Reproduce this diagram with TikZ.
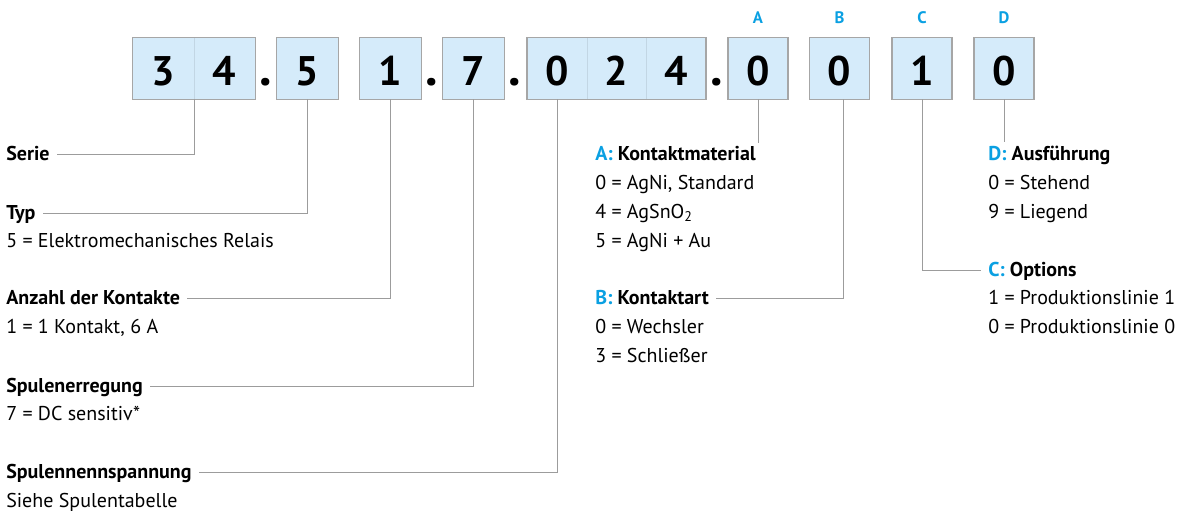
\documentclass[tikz,border=0pt]{standalone}
\usepackage{fontspec}
\setmainfont{PT Sans}
\usetikzlibrary{calc}
\definecolor{boxfill}{HTML}{D5EBFA}
\definecolor{boxline}{HTML}{A6A6A6}
\definecolor{divline}{HTML}{C2D6E4}
\definecolor{connline}{HTML}{9C9C9C}
\definecolor{blu}{HTML}{0AA0E2}
\begin{document}
\begin{tikzpicture}[x=0.75pt,y=-0.75pt,
  cell/.style={fill=boxfill, minimum width=45.75pt, minimum height=45.75pt, inner sep=0pt,
    text height=24.75pt, text depth=0pt, font=\bfseries\fontsize{31}{33}\selectfont},
  cellw/.style={cell, minimum width=44.8pt},
  border/.style={draw=boxline, line width=1.1pt},
  divider/.style={draw=divline, line width=0.6pt},
  dotsym/.style={anchor=base, inner sep=0pt, font=\bfseries\fontsize{38}{40}\selectfont},
  letter/.style={inner sep=0pt, text=blu, font=\bfseries\fontsize{12.5}{14}\selectfont},
  head/.style={anchor=base west, inner sep=0pt, font=\bfseries\fontsize{15}{17}\selectfont},
  sub/.style={anchor=base west, inner sep=0pt, font=\fontsize{15}{17}\selectfont},
  conn/.style={draw=connline, line width=0.7pt}]
\useasboundingbox (0,0) rectangle (1186,514);
% cells
\node[cell] (s1) at (163.5,68.5) {3};
\node[cell] (s2) at (224.5,68.5) {4};
\node[cell] (t) at (307.5,68.5) {5};
\node[cell] (k) at (390.5,68.5) {1};
\node[cell] (e) at (473.5,68.5) {7};
\node[cellw] (v1) at (557,68.5) {0};
\node[cellw] (v2) at (616.5,68.5) {2};
\node[cellw] (v3) at (676,68.5) {4};
\node[cellw] (a) at (758,68.5) {0};
\node[cellw] (b) at (839.5,68.5) {0};
\node[cellw] (c) at (922,68.5) {1};
\node[cellw] (d) at (1004,68.5) {0};
% dividers and borders
\draw[divider] (s1.north east) -- (s1.south east);
\draw[divider] (v1.north east) -- (v1.south east);
\draw[divider] (v2.north east) -- (v2.south east);
\draw[border] (s1.north west) rectangle (s2.south east);
\draw[border] (t.north west) rectangle (t.south east);
\draw[border] (k.north west) rectangle (k.south east);
\draw[border] (e.north west) rectangle (e.south east);
\draw[border] (v1.north west) rectangle (v3.south east);
\draw[border] (a.north west) rectangle (a.south east);
\draw[border] (b.north west) rectangle (b.south east);
\draw[border] (c.north west) rectangle (c.south east);
\draw[border] (d.north west) rectangle (d.south east);
% dots
\node[dotsym] (p1) at (266,85) {.};
\node[dotsym] (p2) at (432,85) {.};
\node[dotsym] (p3) at (515,85) {.};
\node[dotsym] (p4) at (717,85) {.};
% letters
\node[letter] (la) at (758,18) {A};
\node[letter] (lb) at (839.5,18) {B};
\node[letter] (lc) at (922,18) {C};
\node[letter] (ld) at (1004,18) {D};
% left labels
\node[head] (serie) at (6,160) {Serie};
\node[head] (typ) at (6,219) {Typ};
\node[sub] (typ1) at (6,247) {5 = Elektromechanisches Relais};
\node[head] (anz) at (6,304) {Anzahl der Kontakte};
\node[sub] (anz1) at (6,333) {1 = 1 Kontakt, 6 A};
\node[head] (spe) at (6,392) {Spulenerregung};
\node[sub] (spe1) at (6,420) {7 = DC sensitiv*};
\node[head] (spn) at (6,478) {Spulennennspannung};
\node[sub] (spn1) at (6,507) {Siehe Spulentabelle};
% middle labels
\node[head] (ahead) at (595,160) {\textcolor{blu}{A:} Kontaktmaterial};
\node[sub] (a0) at (595,189) {0 = AgNi, Standard};
\node[sub] (a4) at (595,218) {4 = AgSnO\textsubscript{2}};
\node[sub] (a5) at (595,247) {5 = AgNi + Au};
\node[head] (bhead) at (595,304) {\textcolor{blu}{B:} Kontaktart};
\node[sub] (b0) at (595,333) {0 = Wechsler};
\node[sub] (b3) at (595,362) {3 = Schließer};
% right labels
\node[head] (dhead) at (988,160) {\textcolor{blu}{D:} Ausführung};
\node[sub] (d0) at (988,189) {0 = Stehend};
\node[sub] (d9) at (988,218) {9 = Liegend};
\node[head] (chead) at (988,276) {\textcolor{blu}{C:} Options};
\node[sub] (c1) at (988,304) {1 = Produktionslinie 1};
\node[sub] (c0) at (988,333) {0 = Produktionslinie 0};
% connectors
\draw[conn] (s1.south east) |- ([shift={(7,-6)}]serie.base east);
\draw[conn] (t.south) |- ([shift={(7,-6)}]typ.base east);
\draw[conn] (k.south) |- ([shift={(7,-6)}]anz.base east);
\draw[conn] (e.south) |- ([shift={(7,-6)}]spe.base east);
\draw[conn] (v1.south) |- ([shift={(7,-6)}]spn.base east);
\draw[conn] (a.south) -- ($(a.south |- ahead.north)+(0,-3)$);
\draw[conn] ([xshift=2.6pt]b.south) |- ([shift={(7,-6)}]bhead.base east);
\draw[conn] (c.south) |- ([shift={(-7,-6)}]chead.base west);
\draw[conn] (d.south) -- ($(d.south |- dhead.north)+(0,-3)$);
\end{tikzpicture}
\end{document}
